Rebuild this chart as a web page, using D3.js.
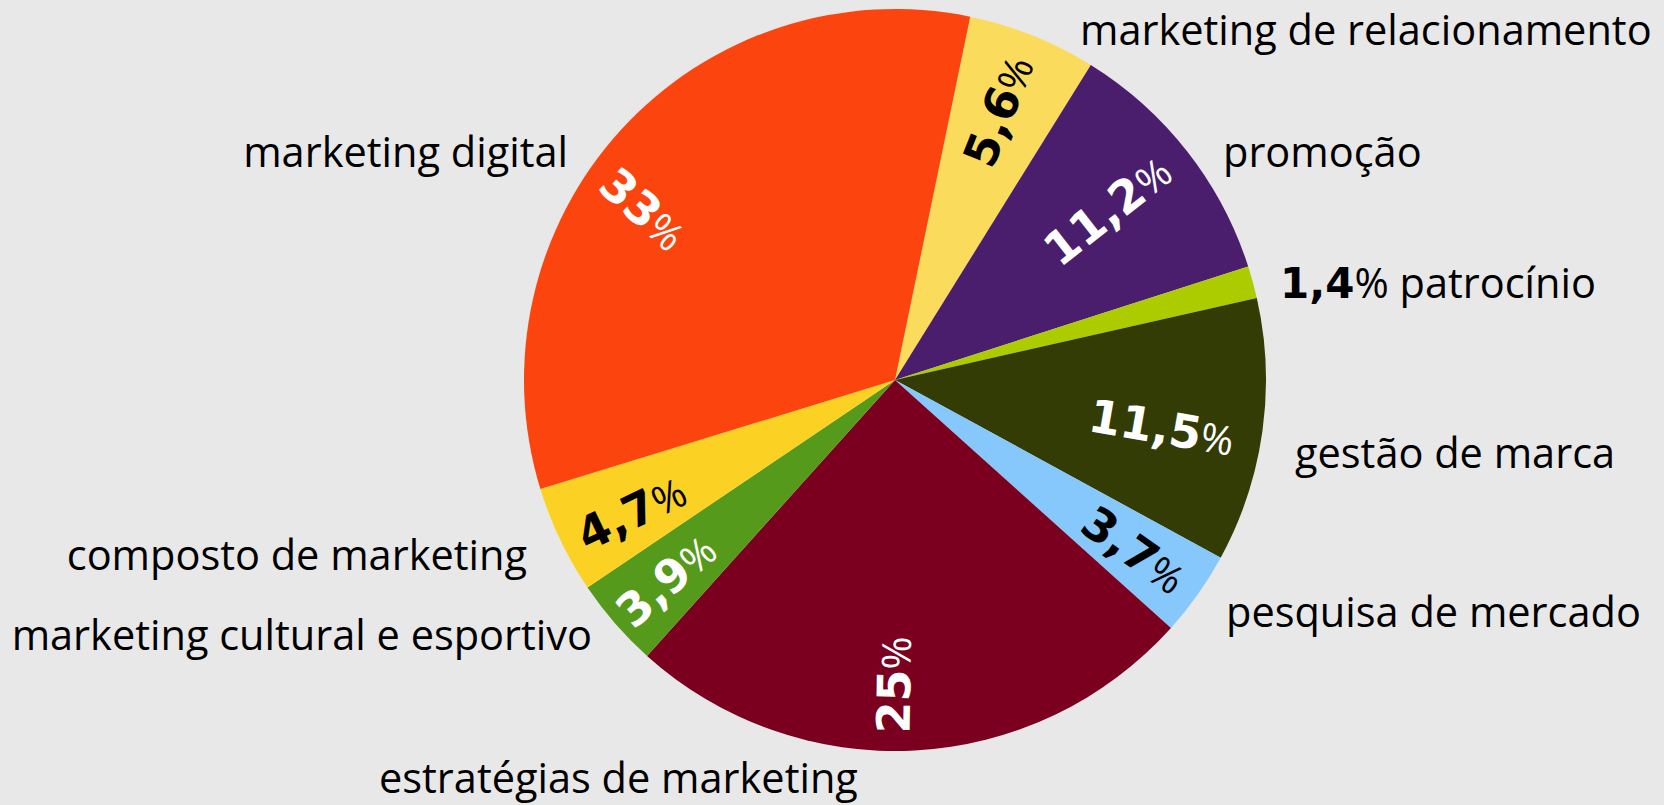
<!DOCTYPE html>
<html>
<head>
<meta charset="utf-8">
<script src="https://cdn.jsdelivr.net/npm/d3@7"></script>
<style>
  html, body { margin: 0; padding: 0; background: #e8e8e8; }
  svg { display: block; }
</style>
</head>
<body>
<svg id="chart" width="1664" height="805"></svg>
<script>
// ---- data ----
const categories = [
  "marketing de relacionamento",
  "promoção",
  "patrocínio",
  "gestão de marca",
  "pesquisa de mercado",
  "estratégias de marketing",
  "marketing cultural e esportivo",
  "composto de marketing",
  "marketing digital"
];
const values = [5.6, 11.2, 1.4, 11.5, 3.7, 25, 3.9, 4.7, 33];
const valueLabels = ["5,6", "11,2", "1,4", "11,5", "3,7", "25", "3,9", "4,7", "33"];

// ---- styles / layout (not data) ----
const colors = ["#fbdb5c", "#4a1e6c", "#adcc00", "#323c04", "#86c8fb", "#7b0020", "#569a1b", "#fbd123", "#fc450e"];
const valueColors = ["#000", "#fff", "#000", "#fff", "#000", "#fff", "#fff", "#000", "#fff"];
// inner label placement: angle offset (deg), radius fraction, rotation offset (deg); null = outside
const innerLayout = [
  {dA: -0.9, rf: 0.776, rot: 0},
  {dA: -0.8, rf: 0.733, rot: 0},
  null,
  {dA: 2.0, rf: 0.73, rot: 2},
  {dA: 0, rf: 0.79, rot: 0},
  {dA: 3.4, rf: 0.822, rot: 4},
  {dA: 0, rf: 0.82, rot: 0},
  {dA: -1, rf: 0.795, rot: 0},
  {dA: -8, rf: 0.82, rot: 0}
];
// category label placement: x, baseline y, anchor
const labelLayout = [
  {x: 1080, y: 45, a: "start"},
  {x: 1223, y: 167, a: "start"},
  {x: 1280, y: 298, a: "start", withValue: true},
  {x: 1295, y: 468, a: "start"},
  {x: 1226, y: 627, a: "start"},
  {x: 379, y: 793, a: "start"},
  {x: 592, y: 650, a: "end"},
  {x: 527, y: 570, a: "end"},
  {x: 568, y: 167, a: "end"}
];

const W = 1664, H = 805;
const cx = 895, cy = 380, R = 371;
const startDeg = 11.7;
const numFont = "'DejaVu Sans', Verdana, sans-serif";
const txtFont = "'Open Sans', 'Noto Sans', sans-serif";

const svg = d3.select("#chart");
svg.append("rect").attr("width", W).attr("height", H).attr("fill", "#e8e8e8");

const data = categories.map((c, i) => ({name: c, value: values[i], i}));
const rad = d => d * Math.PI / 180;

const pie = d3.pie().sort(null).value(d => d.value)
  .startAngle(rad(startDeg)).endAngle(rad(startDeg) + 2 * Math.PI);
const arcs = pie(data);
const arc = d3.arc().innerRadius(0).outerRadius(R);

const g = svg.append("g").attr("transform", `translate(${cx},${cy})`);
g.selectAll("path.slice").data(arcs).join("path")
  .attr("class", "slice")
  .attr("d", arc)
  .attr("fill", d => colors[d.data.i]);

// inner value labels (radial)
arcs.forEach(a => {
  const lay = innerLayout[a.data.i];
  if (!lay) return;
  const midDeg = ((a.startAngle + a.endAngle) / 2) * 180 / Math.PI;
  const posDeg = midDeg + lay.dA;
  const r = lay.rf * R;
  const x = r * Math.sin(rad(posDeg));
  const y = -r * Math.cos(rad(posDeg));
  const m = ((midDeg % 360) + 360) % 360;
  const rot = (m < 165 ? m - 90 : m - 270) + lay.rot;
  const t = g.append("text")
    .attr("transform", `translate(${x},${y}) rotate(${rot})`)
    .attr("text-anchor", "middle")
    .attr("y", 17)
    .attr("fill", valueColors[a.data.i]);
  t.append("tspan").attr("font-family", numFont).attr("font-weight", "bold")
    .attr("font-size", 46).text(valueLabels[a.data.i]);
  t.append("tspan").attr("font-family", txtFont).attr("font-size", 40).text("%");
});

// category labels
labelLayout.forEach((L, i) => {
  const t = svg.append("text")
    .attr("x", L.x).attr("y", L.y)
    .attr("text-anchor", L.a)
    .attr("font-family", txtFont)
    .attr("font-size", 41.5)
    .attr("fill", "#000");
  if (L.withValue) {
    t.append("tspan").attr("font-family", numFont).attr("font-weight", "bold")
      .attr("font-size", 42).text(valueLabels[i]);
    t.append("tspan").text("% ");
  }
  t.append("tspan").text(categories[i]);
});
</script>
</body>
</html>
